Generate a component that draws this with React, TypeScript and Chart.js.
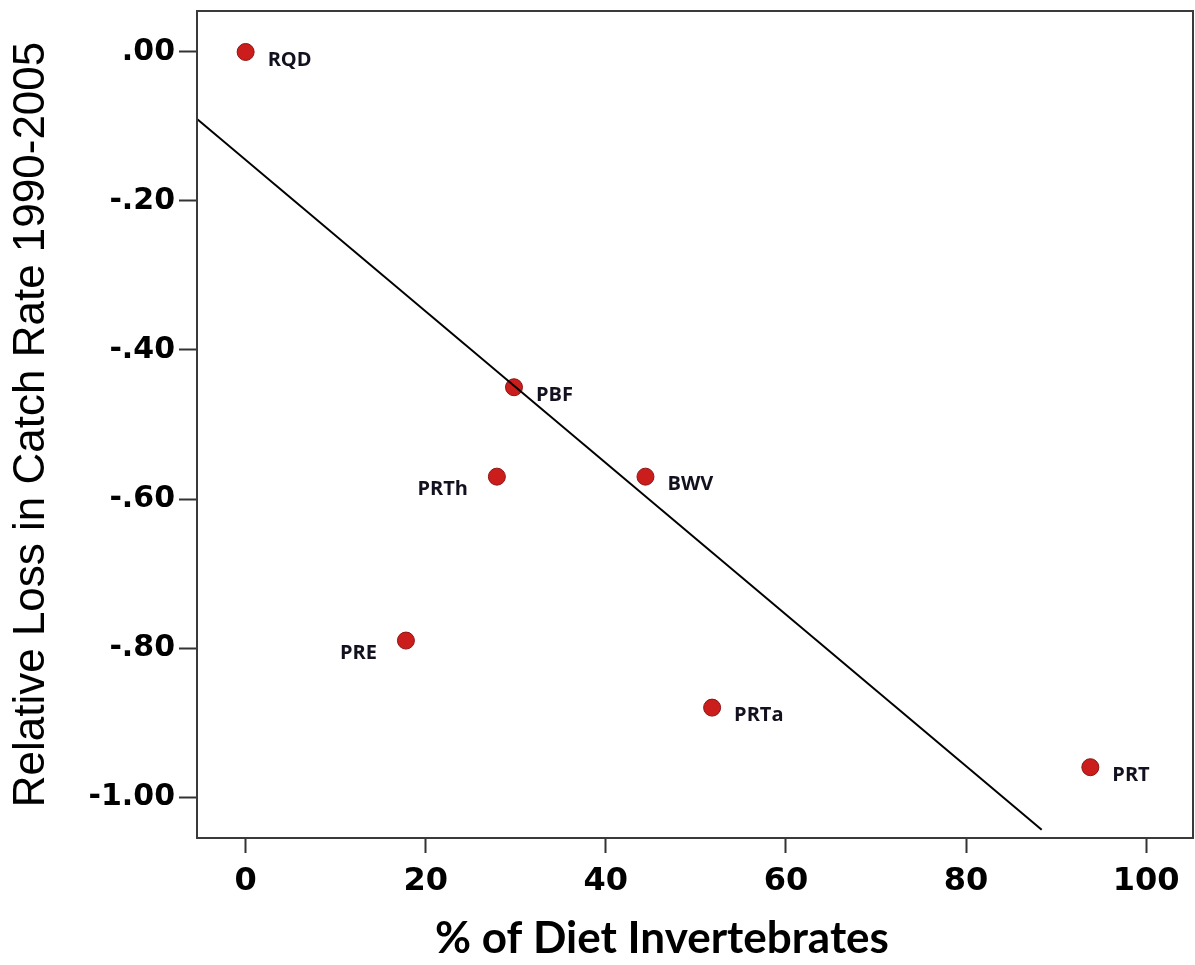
import React, { useEffect, useRef } from 'react';
import { Chart, registerables } from 'chart.js';

Chart.register(...registerables);

// ---- data ----
const pointNames = ['RQD', 'PBF', 'PRTh', 'BWV', 'PRE', 'PRTa', 'PRT'];
const dietInvertebrates = [0, 29.8, 27.9, 44.4, 17.8, 51.8, 93.8];
const relativeLoss = [0, -0.45, -0.57, -0.57, -0.79, -0.88, -0.96];
const fitLineX = [-5.4, 88.4];
const fitLineY = [-0.09, -1.044];
const xTickValues = [0, 20, 40, 60, 80, 100];
const yTickValues = [0, -0.2, -0.4, -0.6, -0.8, -1.0];
const yTickLabels = ['.00', '-.20', '-.40', '-.60', '-.80', '-1.00'];
const xTitle = '% of Diet Invertebrates';
const yTitle = 'Relative Loss in Catch Rate 1990-2005';

// label placement side (style)
const labelsOnLeft = new Set(['PRTh', 'PRE']);

export default function App() {
  const ref = useRef<HTMLCanvasElement>(null);

  useEffect(() => {
    document.body.style.margin = '0';
    const canvas = ref.current;
    if (!canvas) return;

    const framePlugin = {
      id: 'framePlugin',
      afterDraw(chart: any) {
        const { ctx, chartArea } = chart;
        ctx.save();
        ctx.strokeStyle = '#3a3a3a';
        ctx.lineWidth = 2;
        ctx.strokeRect(chartArea.left, chartArea.top, chartArea.right - chartArea.left, chartArea.bottom - chartArea.top);
        // x title
        ctx.fillStyle = '#000';
        ctx.font = 'bold 44px Lato';
        ctx.textAlign = 'center';
        ctx.textBaseline = 'alphabetic';
        ctx.fillText(xTitle, 662, 953);
        ctx.restore();
      },
    };

    const labelPlugin = {
      id: 'labelPlugin',
      afterDatasetsDraw(chart: any) {
        const { ctx } = chart;
        const meta = chart.getDatasetMeta(1);
        ctx.save();
        ctx.font = 'bold 20px "Open Sans"';
        ctx.fillStyle = '#11111f';
        ctx.textBaseline = 'middle';
        meta.data.forEach((pt: any, i: number) => {
          const name = pointNames[i];
          if (labelsOnLeft.has(name)) {
            ctx.textAlign = 'right';
            ctx.fillText(name, pt.x - 29, pt.y + 13);
          } else {
            ctx.textAlign = 'left';
            ctx.fillText(name, pt.x + 22, pt.y + 8);
          }
        });
        ctx.restore();
      },
    };

    const chart = new Chart(canvas, {
      type: 'scatter',
      data: {
        datasets: [
          {
            type: 'line',
            data: fitLineX.map((x, i) => ({ x, y: fitLineY[i] })),
            borderColor: '#000',
            borderWidth: 2,
            pointRadius: 0,
            fill: false,
            order: 0,
          } as any,
          {
            data: dietInvertebrates.map((x, i) => ({ x, y: relativeLoss[i] })),
            backgroundColor: '#cc1d1d',
            borderColor: '#8c1414',
            borderWidth: 1,
            pointRadius: 8.5,
            order: 1,
          },
        ],
      },
      options: {
        responsive: false,
        animation: false,
        devicePixelRatio: 1,
        layout: { autoPadding: false, padding: { top: 11, right: 2, left: 0, bottom: 0 } },
        plugins: { legend: { display: false }, tooltip: { enabled: false } },
        scales: {
          x: {
            type: 'linear',
            min: -5.4,
            max: 105.2,
            afterBuildTicks: (s: any) => {
              s.ticks = xTickValues.map((v) => ({ value: v }));
            },
            afterFit: (s: any) => {
              s.height = 127;
              s.paddingLeft = 0;
              s.paddingRight = 0;
            },
            ticks: {
              font: { family: 'DejaVu Sans', weight: 'bold', size: 32 },
              color: '#000',
              padding: 9,
              maxRotation: 0,
              autoSkip: false,
            },
            grid: { drawOnChartArea: false, drawTicks: true, tickLength: 15, tickColor: '#333', tickWidth: 2 },
            border: { display: false },
          },
          y: {
            type: 'linear',
            min: -1.055,
            max: 0.055,
            afterBuildTicks: (s: any) => {
              s.ticks = yTickValues.map((v) => ({ value: v }));
            },
            afterFit: (s: any) => {
              s.width = 197;
              s.paddingTop = 0;
              s.paddingBottom = 0;
            },
            ticks: {
              font: { family: 'DejaVu Sans', weight: 'bold', size: 30 },
              color: '#000',
              padding: 4,
              autoSkip: false,
              callback: (_v: any, i: number) => yTickLabels[i],
            },
            grid: { drawOnChartArea: false, drawTicks: true, tickLength: 18, tickColor: '#333', tickWidth: 2 },
            border: { display: false },
            title: {
              display: true,
              text: yTitle,
              color: '#000',
              font: { family: 'Liberation Sans', size: 44, lineHeight: 1 },
              padding: { top: 10, bottom: 0 },
            },
          },
        },
      },
      plugins: [framePlugin, labelPlugin],
    } as any);

    return () => chart.destroy();
  }, []);

  return <canvas ref={ref} width={1195} height={965} style={{ display: 'block' }} />;
}
